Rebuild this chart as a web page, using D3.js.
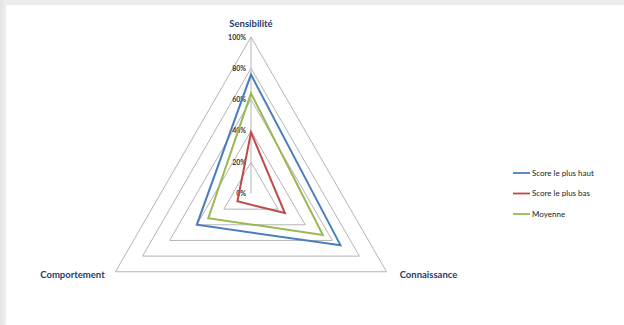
<!DOCTYPE html>
<html>
<head>
<meta charset="utf-8">
<script src="https://cdn.jsdelivr.net/npm/d3@7"></script>
<style>
    body { margin: 0; background: #fff; }
    svg { display: block; font-family: Lato, "Open Sans", sans-serif; }
    .axis-label { font-weight: bold; font-size: 9.5px; fill: #1f3a6b; }
    .tick-label { font-size: 7px; font-weight: bold; fill: #333; }
    .legend-text { font-size: 8px; fill: #222; }
</style>
</head>
<body>
<div class="chart"></div>
<script>
var categories = ['Sensibilité', 'Connaissance', 'Comportement'];
var seriesNames = ['Score le plus haut', 'Score le plus bas', 'Moyenne'];
var highest = [0.76, 0.66, 0.40];
var lowest = [0.39, 0.25, 0.10];
var average = [0.64, 0.53, 0.315];
var tickValues = [0, 0.2, 0.4, 0.6, 0.8, 1];
var tickLabels = ['0%', '20%', '40%', '60%', '80%', '100%'];

(function() {
    var options = {
        width: 624,
        height: 325,
        cx: 251,
        cy: 193.5,
        radius: 156.5,
        colors: ['#4a7ebb', '#be4b48', '#98b954']
    };

    var svg = d3.select('.chart')
        .append('svg')
        .attr('width', options.width)
        .attr('height', options.height);

    // grey frame on the top and left, like the screenshot border
    var grad = svg.append('defs').append('linearGradient')
        .attr('id', 'frame').attr('x1', 0).attr('x2', 1).attr('y1', 0).attr('y2', 0);
    grad.append('stop').attr('offset', 0).attr('stop-color', '#e4e4e4');
    grad.append('stop').attr('offset', 1).attr('stop-color', '#efefef');
    svg.append('rect').attr('width', options.width).attr('height', 5).attr('fill', '#ececec');
    svg.append('rect').attr('width', 6).attr('height', options.height).attr('fill', 'url(#frame)');

    var r = d3.scaleLinear().domain([0, 1]).range([0, options.radius]);
    var angle = d3.scalePoint().domain(categories.concat(['_end'])).range([0, 2 * Math.PI]);

    var chart = svg.append('g')
        .attr('transform', 'translate(' + options.cx + ',' + options.cy + ')');

    var radial = d3.lineRadial()
        .angle(function(d) { return angle(d.category); })
        .radius(function(d) { return r(d.value); })
        .curve(d3.curveLinearClosed);

    // grid triangles
    tickValues.slice(1).forEach(function(t) {
        chart.append('path')
            .attr('d', radial(categories.map(function(c) { return { category: c, value: t }; })))
            .attr('fill', 'none')
            .attr('stroke', '#b4b4b4')
            .attr('stroke-width', 1);
    });

    // value axis
    chart.append('line')
        .attr('x1', 0).attr('y1', 0)
        .attr('x2', 0).attr('y2', -r(1))
        .attr('stroke', '#b4b4b4');

    chart.selectAll('.tick-label')
        .data(tickValues)
        .enter().append('text')
        .classed('tick-label', true)
        .attr('text-anchor', 'end')
        .attr('x', -5)
        .attr('y', function(d) { return -r(d) + 2.5; })
        .text(function(d, i) { return tickLabels[i]; });

    // data series
    [highest, lowest, average].forEach(function(values, i) {
        chart.append('path')
            .attr('d', radial(categories.map(function(c, j) { return { category: c, value: values[j] }; })))
            .attr('fill', 'none')
            .attr('stroke', options.colors[i])
            .attr('stroke-width', 2)
            .attr('stroke-linejoin', 'miter');
    });

    // category labels
    var labelPos = [
        { x: 0, y: -r(1) - 10, anchor: 'middle' },
        { x: r(1) * Math.sin(angle(categories[1])) + 42, y: -r(1) * Math.cos(angle(categories[1])) + 6, anchor: 'middle' },
        { x: r(1) * Math.sin(angle(categories[2])) - 43, y: -r(1) * Math.cos(angle(categories[2])) + 6, anchor: 'middle' }
    ];
    categories.forEach(function(c, i) {
        chart.append('text')
            .classed('axis-label', true)
            .attr('text-anchor', labelPos[i].anchor)
            .attr('x', labelPos[i].x)
            .attr('y', labelPos[i].y)
            .text(c);
    });

    // legend
    var legend = svg.append('g').attr('transform', 'translate(513, 173)');
    seriesNames.forEach(function(name, i) {
        var item = legend.append('g').attr('transform', 'translate(0,' + (i * 20.5) + ')');
        item.append('line')
            .attr('x1', 0).attr('x2', 17)
            .attr('stroke', options.colors[i])
            .attr('stroke-width', 1.8);
        item.append('text')
            .classed('legend-text', true)
            .attr('x', 19)
            .attr('y', 2.8)
            .text(name);
    });
})();
</script>
</body>
</html>
